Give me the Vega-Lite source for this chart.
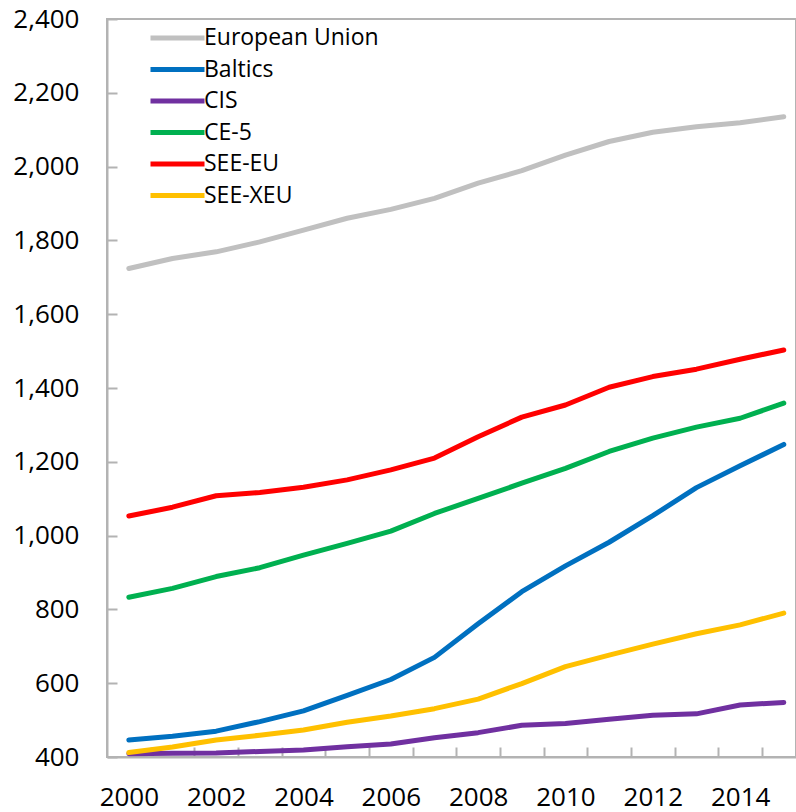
{
  "$schema": "https://vega.github.io/schema/vega-lite/v6.json",
  "autosize": "none",
  "width": 689,
  "height": 738,
  "padding": {"left": 107, "top": 19, "right": 0, "bottom": 55},
  "background": "white",
  "config": {
    "font": "Open Sans",
    "view": {"stroke": "#B3B3B3", "strokeWidth": 2}
  },
  "data": {
    "values": [
      {"region":"European Union","year":2000,"value":1724},{"region":"European Union","year":2001,"value":1751},{"region":"European Union","year":2002,"value":1769},{"region":"European Union","year":2003,"value":1796},{"region":"European Union","year":2004,"value":1828},{"region":"European Union","year":2005,"value":1860},{"region":"European Union","year":2006,"value":1884},{"region":"European Union","year":2007,"value":1914},{"region":"European Union","year":2008,"value":1955},{"region":"European Union","year":2009,"value":1989},{"region":"European Union","year":2010,"value":2031},{"region":"European Union","year":2011,"value":2068},{"region":"European Union","year":2012,"value":2093},{"region":"European Union","year":2013,"value":2108},{"region":"European Union","year":2014,"value":2119},{"region":"European Union","year":2015,"value":2135},
      {"region":"Baltics","year":2000,"value":446},{"region":"Baltics","year":2001,"value":456},{"region":"Baltics","year":2002,"value":470},{"region":"Baltics","year":2003,"value":496},{"region":"Baltics","year":2004,"value":525},{"region":"Baltics","year":2005,"value":567},{"region":"Baltics","year":2006,"value":610},{"region":"Baltics","year":2007,"value":670},{"region":"Baltics","year":2008,"value":761},{"region":"Baltics","year":2009,"value":848},{"region":"Baltics","year":2010,"value":918},{"region":"Baltics","year":2011,"value":982},{"region":"Baltics","year":2012,"value":1054},{"region":"Baltics","year":2013,"value":1130},{"region":"Baltics","year":2014,"value":1189},{"region":"Baltics","year":2015,"value":1247},
      {"region":"CIS","year":2000,"value":409},{"region":"CIS","year":2001,"value":410},{"region":"CIS","year":2002,"value":411},{"region":"CIS","year":2003,"value":415},{"region":"CIS","year":2004,"value":419},{"region":"CIS","year":2005,"value":428},{"region":"CIS","year":2006,"value":435},{"region":"CIS","year":2007,"value":452},{"region":"CIS","year":2008,"value":466},{"region":"CIS","year":2009,"value":486},{"region":"CIS","year":2010,"value":491},{"region":"CIS","year":2011,"value":502},{"region":"CIS","year":2012,"value":513},{"region":"CIS","year":2013,"value":517},{"region":"CIS","year":2014,"value":541},{"region":"CIS","year":2015,"value":548},
      {"region":"CE-5","year":2000,"value":833},{"region":"CE-5","year":2001,"value":857},{"region":"CE-5","year":2002,"value":889},{"region":"CE-5","year":2003,"value":913},{"region":"CE-5","year":2004,"value":947},{"region":"CE-5","year":2005,"value":979},{"region":"CE-5","year":2006,"value":1012},{"region":"CE-5","year":2007,"value":1060},{"region":"CE-5","year":2008,"value":1101},{"region":"CE-5","year":2009,"value":1142},{"region":"CE-5","year":2010,"value":1182},{"region":"CE-5","year":2011,"value":1228},{"region":"CE-5","year":2012,"value":1264},{"region":"CE-5","year":2013,"value":1294},{"region":"CE-5","year":2014,"value":1318},{"region":"CE-5","year":2015,"value":1359},
      {"region":"SEE-EU","year":2000,"value":1053},{"region":"SEE-EU","year":2001,"value":1077},{"region":"SEE-EU","year":2002,"value":1108},{"region":"SEE-EU","year":2003,"value":1117},{"region":"SEE-EU","year":2004,"value":1131},{"region":"SEE-EU","year":2005,"value":1151},{"region":"SEE-EU","year":2006,"value":1178},{"region":"SEE-EU","year":2007,"value":1210},{"region":"SEE-EU","year":2008,"value":1268},{"region":"SEE-EU","year":2009,"value":1321},{"region":"SEE-EU","year":2010,"value":1354},{"region":"SEE-EU","year":2011,"value":1402},{"region":"SEE-EU","year":2012,"value":1431},{"region":"SEE-EU","year":2013,"value":1451},{"region":"SEE-EU","year":2014,"value":1478},{"region":"SEE-EU","year":2015,"value":1503},
      {"region":"SEE-XEU","year":2000,"value":412},{"region":"SEE-XEU","year":2001,"value":427},{"region":"SEE-XEU","year":2002,"value":446},{"region":"SEE-XEU","year":2003,"value":459},{"region":"SEE-XEU","year":2004,"value":473},{"region":"SEE-XEU","year":2005,"value":494},{"region":"SEE-XEU","year":2006,"value":511},{"region":"SEE-XEU","year":2007,"value":531},{"region":"SEE-XEU","year":2008,"value":557},{"region":"SEE-XEU","year":2009,"value":599},{"region":"SEE-XEU","year":2010,"value":645},{"region":"SEE-XEU","year":2011,"value":676},{"region":"SEE-XEU","year":2012,"value":706},{"region":"SEE-XEU","year":2013,"value":734},{"region":"SEE-XEU","year":2014,"value":758},{"region":"SEE-XEU","year":2015,"value":790}
    ]
  },
  "mark": {"type": "line", "strokeWidth": 5, "strokeCap": "round", "strokeJoin": "round"},
  "encoding": {
    "x": {
      "field": "year",
      "type": "quantitative",
      "scale": {"domain": [1999.5, 2015.28], "nice": false, "zero": false},
      "axis": {
        "title": null,
        "values": [2000.5,2001.5,2002.5,2003.5,2004.5,2005.5,2006.5,2007.5,2008.5,2009.5,2010.5,2011.5,2012.5,2013.5,2014.5],
        "labelExpr": "floor(datum.value) % 2 == 0 ? toString(floor(datum.value)) : ''",
        "labelOffset": -21.8,
        "labelFontSize": 26,
        "labelColor": "#000000",
        "labelPadding": 37,
        "labelFlush": false,
        "labelOverlap": false,
        "tickSize": -10,
        "tickColor": "#B3B3B3",
        "tickWidth": 2,
        "domainColor": "#B3B3B3",
        "domainWidth": 2,
        "grid": false
      }
    },
    "y": {
      "field": "value",
      "type": "quantitative",
      "scale": {"domain": [400, 2400], "nice": false, "zero": false},
      "axis": {
        "title": null,
        "values": [400,600,800,1000,1200,1400,1600,1800,2000,2200,2400],
        "format": ",d",
        "labelFontSize": 26,
        "labelColor": "#000000",
        "labelPadding": 38,
        "tickSize": -10,
        "tickColor": "#B3B3B3",
        "tickWidth": 2,
        "domainColor": "#B3B3B3",
        "domainWidth": 2,
        "grid": false
      }
    },
    "color": {
      "field": "region",
      "type": "nominal",
      "scale": {
        "domain": ["European Union","Baltics","CIS","CE-5","SEE-EU","SEE-XEU"],
        "range": ["#C0C0C0","#0070C0","#7030A0","#00B050","#FF0000","#FFC000"]
      },
      "legend": {
        "title": null,
        "orient": "none",
        "legendX": 41,
        "legendY": 5,
        "symbolType": "stroke",
        "symbolSize": 2916,
        "symbolStrokeWidth": 5,
        "labelFontSize": 23,
        "labelColor": "#000000",
        "labelOffset": -3,
        "labelLimit": 0,
        "clipHeight": 28,
        "rowPadding": 3.5,
        "padding": 0
      }
    }
  }
}
